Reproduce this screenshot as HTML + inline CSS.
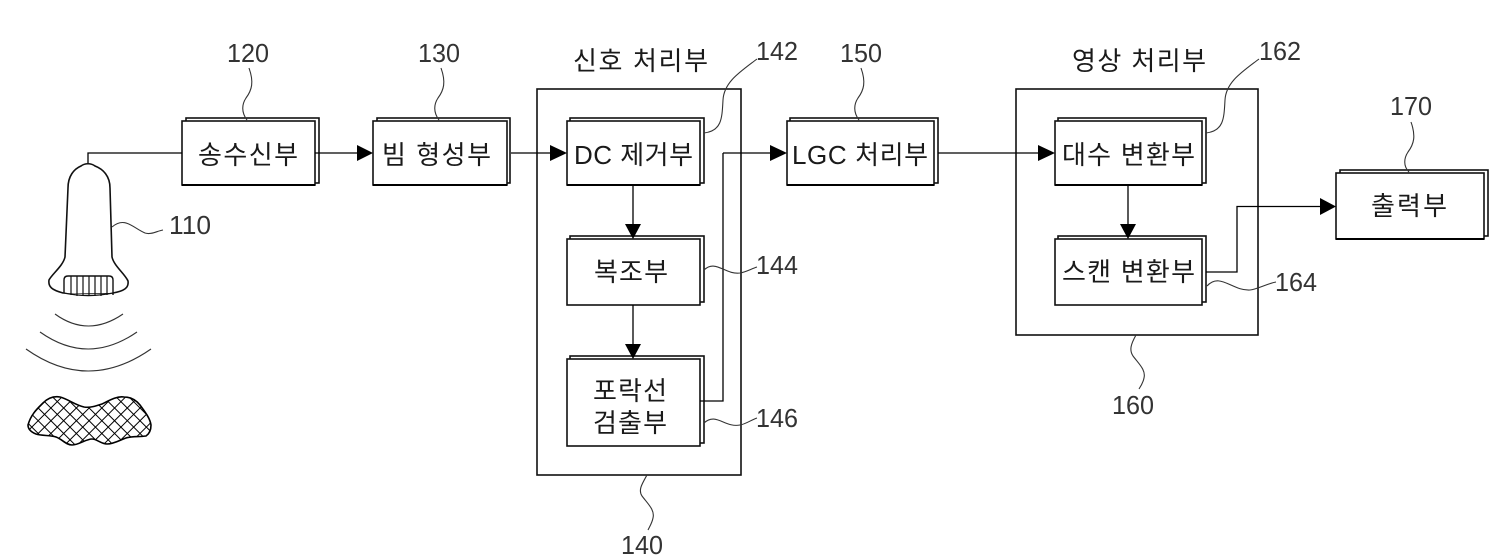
<!DOCTYPE html>
<html lang="ko">
<head>
<meta charset="utf-8">
<title>Diagram</title>
<style>
html,body{margin:0;padding:0;background:#fff;width:1500px;height:559px;overflow:hidden}
svg{display:block}
.k{font-family:"Liberation Sans","Noto Sans CJK KR","NanumGothic",sans-serif;font-size:26px;fill:#1a1a1a}
.n{font-family:"Liberation Sans",sans-serif;font-size:26px;fill:#333}
.b{fill:#fff;stroke:#111;stroke-width:1.6}
.f{fill:#fff;stroke:#111;stroke-width:1.6}
.l{fill:none;stroke:#000;stroke-width:1.3}
.c{fill:none;stroke:#333;stroke-width:1.1}
.a{fill:#000}
</style>
</head>
<body>
<svg width="1500" height="559" viewBox="0 0 1500 559" xmlns="http://www.w3.org/2000/svg">
<defs>
<pattern id="h" width="9" height="9" patternUnits="userSpaceOnUse" patternTransform="rotate(45 0 0)">
<path d="M0 0H9M0 0V9" stroke="#000" stroke-width="2" fill="none"/>
</pattern>
</defs>
<rect width="1500" height="559" fill="#fff"/>

<!-- outer groups -->
<rect x="537" y="89" width="204" height="386" fill="none" stroke="#111" stroke-width="1.6"/>
<rect x="1016" y="89" width="242" height="246" fill="none" stroke="#111" stroke-width="1.6"/>

<!-- stacked boxes -->
<rect class="b" x="186" y="118" width="133" height="65"/><rect class="f" x="182" y="121" width="133" height="64"/>
<rect class="b" x="377" y="118" width="133" height="65"/><rect class="f" x="373" y="121" width="134" height="64"/>
<rect class="b" x="570" y="118" width="134" height="65"/><rect class="f" x="567" y="121" width="133" height="64"/>
<rect class="b" x="570" y="236" width="134" height="66"/><rect class="f" x="567" y="239" width="133" height="66"/>
<rect class="b" x="570" y="356" width="134" height="87"/><rect class="f" x="567" y="359" width="133" height="87"/>
<rect class="b" x="790" y="118" width="148" height="65"/><rect class="f" x="787" y="121" width="147" height="64"/>
<rect class="b" x="1058" y="118" width="148" height="65"/><rect class="f" x="1055" y="121" width="147" height="64"/>
<rect class="b" x="1058" y="236" width="148" height="66"/><rect class="f" x="1055" y="239" width="147" height="66"/>
<rect class="b" x="1340" y="170" width="148" height="66"/><rect class="f" x="1336" y="173" width="148" height="66"/>
<path d="M182 185H315M373 185H507M567 185H700M787 185H934M1055 185H1202M1336 239H1484" stroke="#000" stroke-width="2" fill="none"/>

<!-- connectors -->
<path class="l" d="M88 165V153H182M315 153H358M511 153H551M938 153H1039M723 153H771M700 401H723V153"/>
<path class="l" d="M633 185V225M633 305V345M1128 185V225M1206 272H1237V206.500H1321"/>
<polygon class="a" points="357,145 373,153 357,161"/>
<polygon class="a" points="550,145 567,153 550,161"/>
<polygon class="a" points="770,145 787,153 770,161"/>
<polygon class="a" points="1038,145 1055,153 1038,161"/>
<polygon class="a" points="1320,198 1336,206.500 1320,215"/>
<polygon class="a" points="625,224 641,224 633,239"/>
<polygon class="a" points="625,344 641,344 633,359"/>
<polygon class="a" points="1120,224 1136,224 1128,239"/>

<!-- leaders -->
<path class="c" d="M249 68C254 82 252 90 246 98C242 104 241 112 247 120"/>
<path class="c" d="M441 68C446 82 444 90 438 98C434 104 433 112 439 120"/>
<path class="c" d="M861 68C866 82 864 90 858 98C854 104 853 112 859 120"/>
<path class="c" d="M1411 122C1416 136 1414 144 1408 152C1404 158 1403 166 1409 172"/>
<path class="c" d="M704 133C722 131 722 118 723 100C724 82 740 72 757 59"/>
<path class="c" d="M1206 133C1224 131 1224 118 1225 100C1226 82 1242 72 1259 59"/>
<path class="c" d="M704 270C716 259 725 275 740 273C746 272 751 269 757 267"/>
<path class="c" d="M704 423C716 412 725 428 740 425C746 424 751 420 757 418"/>
<path class="c" d="M1207 286C1220 272 1232 291 1250 290C1258 289 1266 284 1276 282"/>
<path class="c" d="M647 475C642 484 638 490 642 496C648 504 655 510 653 518C652 523 650 526 648 530"/>
<path class="c" d="M1136 335C1131 344 1129 350 1133 356C1139 364 1146 370 1144 378C1143 383 1141 386 1139 389"/>
<path class="c" d="M112 227C125 216 133 228 145 233C151 235 157 231 163 230"/>

<!-- transducer -->
<path d="M81 166C74 169 68 176 68 188L65 257C63 266 52 274 49 280C48 287 52 290 63 293L113 293C124 291 129 288 128 281C125 274 114 266 112 257L110 188C110 176 103 169 95 166C91 163 85 163 81 166Z" fill="#fff" stroke="#111" stroke-width="1.6"/>
<path d="M64 293V280Q64 276 68 276H109Q113 276 113 280V295M64 293Q88 298 113 293" fill="#fff" stroke="#111" stroke-width="1.4"/>
<path d="M71 276V295M77 276V296M83 276V296M89 276V296M95 276V296M101 276V296M107 276V295" stroke="#111" stroke-width="1.2" fill="none"/>

<!-- waves -->
<path class="c" d="M55 314Q88 338 123 314"/>
<path class="c" d="M40 332Q88 366 137 332"/>
<path class="c" d="M26 349Q88 393 151 349"/>

<!-- tissue -->
<path d="M28 425C31 414 38 408 43 403C48 398 54 396 60 397C68 399 75 405 84 407C90 408 96 406 102 404C110 400 117 396 124 397C131 397 136 400 140 405C145 412 150 418 151 425C151 431 149 434 146 436C139 437 132 436 126 438C120 440 114 444 107 444C101 444 97 439 92 439C86 439 79 445 72 445C66 445 62 439 56 437C50 435 42 436 36 434C31 432 28 429 28 425Z" fill="url(#h)" stroke="#000" stroke-width="1.6"/>

<!-- labels -->
<g class="k">
<text x="198" y="164" textLength="100" lengthAdjust="spacing">송수신부</text>
<text x="382" y="164" textLength="109" lengthAdjust="spacing">빔 형성부</text>
<text x="573" y="70" textLength="135" lengthAdjust="spacing">신호 처리부</text>
<text x="574" y="164" textLength="119" lengthAdjust="spacing">DC 제거부</text>
<text x="792" y="164" textLength="136" lengthAdjust="spacing">LGC 처리부</text>
<text x="594" y="281" textLength="74" lengthAdjust="spacing">복조부</text>
<text x="593" y="400" textLength="74" lengthAdjust="spacing">포락선</text>
<text x="593" y="432" textLength="74" lengthAdjust="spacing">검출부</text>
<text x="1072" y="70" textLength="134" lengthAdjust="spacing">영상 처리부</text>
<text x="1062" y="164" textLength="133" lengthAdjust="spacing">대수 변환부</text>
<text x="1062" y="281" textLength="133" lengthAdjust="spacing">스캔 변환부</text>
<text x="1371" y="215" textLength="76" lengthAdjust="spacing">출력부</text>
</g>
<g class="n">
<text x="227" y="62" textLength="42" lengthAdjust="spacingAndGlyphs">120</text>
<text x="418" y="62" textLength="42" lengthAdjust="spacingAndGlyphs">130</text>
<text x="756" y="60" textLength="42" lengthAdjust="spacingAndGlyphs">142</text>
<text x="840" y="62" textLength="42" lengthAdjust="spacingAndGlyphs">150</text>
<text x="756" y="274" textLength="42" lengthAdjust="spacingAndGlyphs">144</text>
<text x="756" y="427" textLength="42" lengthAdjust="spacingAndGlyphs">146</text>
<text x="621" y="554" textLength="42" lengthAdjust="spacingAndGlyphs">140</text>
<text x="1259" y="60" textLength="42" lengthAdjust="spacingAndGlyphs">162</text>
<text x="1275" y="291" textLength="42" lengthAdjust="spacingAndGlyphs">164</text>
<text x="1112" y="414" textLength="42" lengthAdjust="spacingAndGlyphs">160</text>
<text x="1390" y="115" textLength="42" lengthAdjust="spacingAndGlyphs">170</text>
<text x="169" y="234" textLength="42" lengthAdjust="spacingAndGlyphs">110</text>
</g>
</svg>
</body>
</html>
